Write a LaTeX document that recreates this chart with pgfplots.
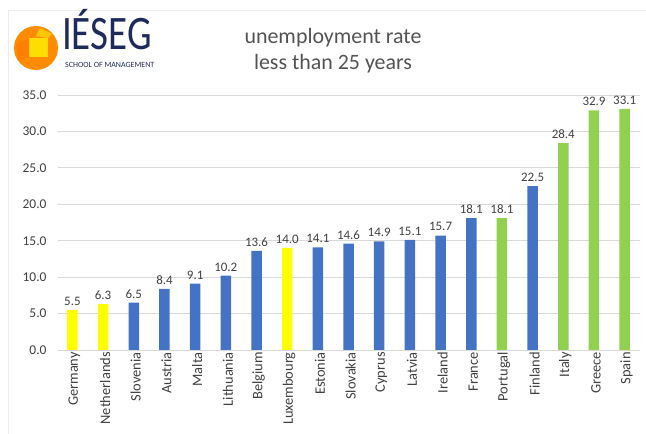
\documentclass[border=0pt]{standalone}
\usepackage{pgfplots}
\pgfplotsset{compat=1.18}
\usepackage{fontspec}
\setmainfont{Carlito}
\definecolor{byel}{HTML}{FFFF00}
\definecolor{bblu}{HTML}{4472C4}
\definecolor{bgrn}{HTML}{92D050}
\definecolor{txt}{HTML}{404040}
\definecolor{navy}{HTML}{1F2A5C}
\begin{document}
\begin{tikzpicture}[x=1bp,y=1bp]
\useasboundingbox (0,0) rectangle (646,434);
\draw[gray!15] (8,0) -- (8,424) -- (646,424);
% logo
\fill[orange!90!yellow] (36,386) circle (22);
\fill[yellow!80!orange] (29,396) rectangle (48,377);
\fill[orange] (16,390) -- (29,396) -- (29,377) -- (18,374) -- cycle;
\fill[yellow!60!orange] (40,406) -- (52,400) -- (48,396) -- (36,398) -- cycle;
\node[anchor=base west,inner sep=0pt,text depth=0pt,text=navy,font=\fontsize{46}{46}\selectfont,xscale=0.85,yscale=1.05] at (62,384) {IÉSEG};
\node[anchor=west,inner sep=0pt,text=navy,font=\fontsize{8}{8}\selectfont] at (65,369) {SCHOOL OF MANAGEMENT};
% title
\node[text=txt!90,font=\fontsize{22}{22}\selectfont] at (333,396) {unemployment rate};
\node[text=txt!90,font=\fontsize{22}{22}\selectfont] at (333,370) {less than 25 years};
\begin{axis}[
  at={(58bp,84bp)}, anchor=south west,
  scale only axis, width=582bp, height=255bp,
  xmin=-0.47, xmax=18.5, ymin=0, ymax=35,
  ybar, bar width=10.5bp, bar shift=0pt,
  ytick={0,5,...,35},
  yticklabel style={text=txt,font=\fontsize{13.5}{13.5}\selectfont,xshift=-8bp,/pgf/number format/fixed,/pgf/number format/fixed zerofill,/pgf/number format/precision=1,/pgf/number format/assume math mode=true},
  ymajorgrids, grid style={draw=gray!30, line width=0.8pt},
  axis line style={draw=none},
  major tick length=0pt,
  xtick={0,...,18},
  xticklabels={Germany,Netherlands,Slovenia,Austria,Malta,Lithuania,Belgium,Luxembourg,Estonia,Slovakia,Cyprus,Latvia,Ireland,France,Portugal,Finland,Italy,Greece,Spain},
  xticklabel style={rotate=90,anchor=east,text=txt,font=\fontsize{14.5}{14.5}\selectfont,inner sep=2pt,yshift=-2bp},
  nodes near coords,
  nodes near coords style={text=txt,font=\fontsize{13}{13}\selectfont,/pgf/number format/fixed,/pgf/number format/fixed zerofill,/pgf/number format/precision=1,/pgf/number format/assume math mode=true},
  every node near coord/.append style={yshift=1bp},
  clip=false,
]
\addplot[fill=byel,draw=none] coordinates {(0,5.5) (1,6.3) (7,14.0)};
\addplot[fill=bblu,draw=none] coordinates {(2,6.5) (3,8.4) (4,9.1) (5,10.2) (6,13.6) (8,14.1) (9,14.6) (10,14.9) (11,15.1) (12,15.7) (13,18.1) (15,22.5)};
\addplot[fill=bgrn,draw=none] coordinates {(14,18.1) (16,28.4) (17,32.9) (18,33.1)};
\end{axis}
\end{tikzpicture}
\end{document}
